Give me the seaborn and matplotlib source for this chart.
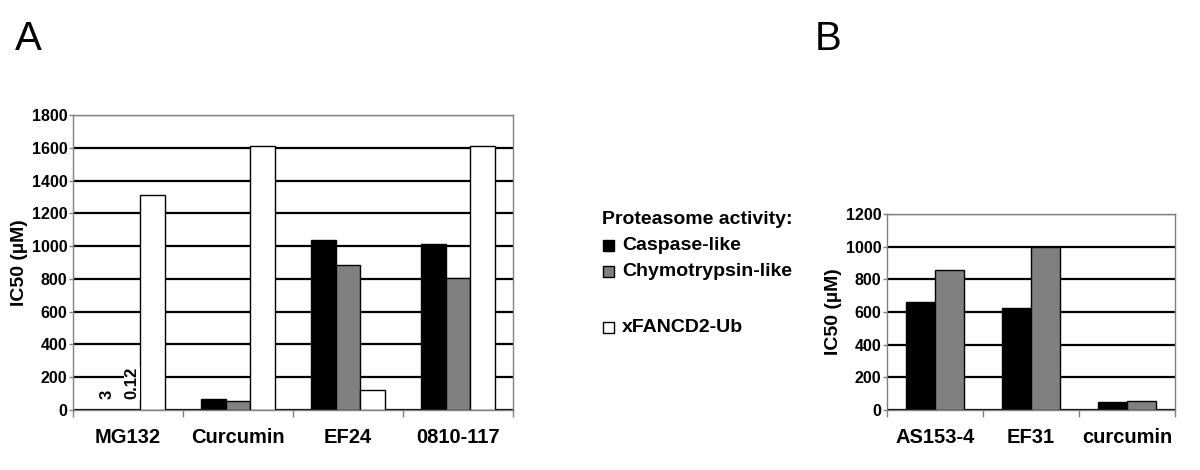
import matplotlib
matplotlib.use("Agg")
import matplotlib.pyplot as plt
from matplotlib.patches import Rectangle
import numpy as np
import pandas as pd
import seaborn as sns

# panel A data
compounds_a = ["MG132", "Curcumin", "EF24", "0810-117"]
caspase_a = [3, 70, 1035, 1010]
chymo_a = [0.12, 55, 885, 805]
fancd2_a = [1310, 1610, 120, 1610]

# panel B data
compounds_b = ["AS153-4", "EF31", "curcumin"]
caspase_b = [660, 622, 48]
chymo_b = [860, 1000, 55]

series = ["Caspase-like", "Chymotrypsin-like", "xFANCD2-Ub"]
colors = {"Caspase-like": "black", "Chymotrypsin-like": "#808080", "xFANCD2-Ub": "white"}

df_a = pd.DataFrame({
    "compound": compounds_a * 3,
    "assay": [series[0]] * 4 + [series[1]] * 4 + [series[2]] * 4,
    "ic50": caspase_a + chymo_a + fancd2_a,
})
df_b = pd.DataFrame({
    "compound": compounds_b * 2,
    "assay": [series[0]] * 3 + [series[1]] * 3,
    "ic50": caspase_b + chymo_b,
})

sns.set_style("white")
plt.rcParams["font.family"] = ["Liberation Sans", "DejaVu Sans"]
plt.rcParams["text.color"] = "black"
plt.rcParams["axes.labelcolor"] = "black"
plt.rcParams["xtick.labelcolor"] = "black"
plt.rcParams["ytick.labelcolor"] = "black"

fig = plt.figure(figsize=(12, 4.7), dpi=100)
ax_a = fig.add_axes([73 / 1200, 60 / 470, 440 / 1200, 295 / 470])
ax_b = fig.add_axes([887 / 1200, 60 / 470, 288 / 1200, 196 / 470])


def style_axis(ax, top, cats):
    ax.set_ylim(0, top)
    ax.set_xlim(-0.5, len(cats) - 0.5)
    ax.set_yticks(np.arange(0, top + 1, 200))
    ax.yaxis.grid(True, color="black", linewidth=1.6)
    ax.xaxis.grid(False)
    ax.set_axisbelow(True)
    for s in ax.spines.values():
        s.set_color("#808080")
        s.set_linewidth(1.0)
        s.set_visible(True)
    ax.tick_params(axis="y", length=3, width=1, color="#808080", pad=1,
                   labelsize=11.5, left=True)
    ax.tick_params(axis="x", which="major", length=0, pad=13, labelsize=14.5)
    ax.set_xticks(np.arange(-0.5, len(cats), 1), minor=True)
    ax.tick_params(axis="x", which="minor", length=5, width=1, color="#808080",
                   bottom=True)
    for lbl in ax.get_yticklabels() + ax.get_xticklabels():
        lbl.set_fontweight("bold")
    ax.set_xlabel("")
    ax.set_ylabel("IC50 (µM)", fontsize=14, fontweight="bold", labelpad=3)


sns.barplot(data=df_a, x="compound", y="ic50", hue="assay", order=compounds_a,
            hue_order=series, palette=colors, edgecolor="black", linewidth=1,
            width=0.68, ax=ax_a, legend=False)
style_axis(ax_a, 1800, compounds_a)

# value labels for the tiny MG132 bars
for cont, txt in zip(ax_a.containers[:2], ["3", "0.12"]):
    p = cont.patches[0]
    ax_a.annotate(txt, (p.get_x() + p.get_width() / 2, 70), xytext=(3, 0),
                  textcoords="offset points", rotation=90,
                  ha="center", va="bottom", fontsize=12, weight="bold",
                  bbox=dict(facecolor="white", edgecolor="none", pad=0.5))

sns.barplot(data=df_b, x="compound", y="ic50", hue="assay", order=compounds_b,
            hue_order=series[:2], palette=colors, edgecolor="black", linewidth=1,
            width=0.6, ax=ax_b, legend=False)
style_axis(ax_b, 1200, compounds_b)

# panel letters
fig.text(15 / 1200, 1 - 50 / 470, "A", fontsize=29)
fig.text(815 / 1200, 1 - 50 / 470, "B", fontsize=29)

# legend
fig.text(602 / 1200, 1 - 220 / 470, "Proteasome activity:", fontsize=14,
         fontweight="bold", va="center")
for name, yy in zip(series, [245, 271, 327]):
    fig.patches.append(Rectangle((603 / 1200, 1 - (yy + 5.5) / 470), 11 / 1200, 11 / 470,
                                 transform=fig.transFigure, facecolor=colors[name],
                                 edgecolor="black", linewidth=1))
    fig.text(622 / 1200, 1 - yy / 470, name, fontsize=14, fontweight="bold",
             va="center")

fig.savefig("out.png", dpi=100, facecolor="white")
